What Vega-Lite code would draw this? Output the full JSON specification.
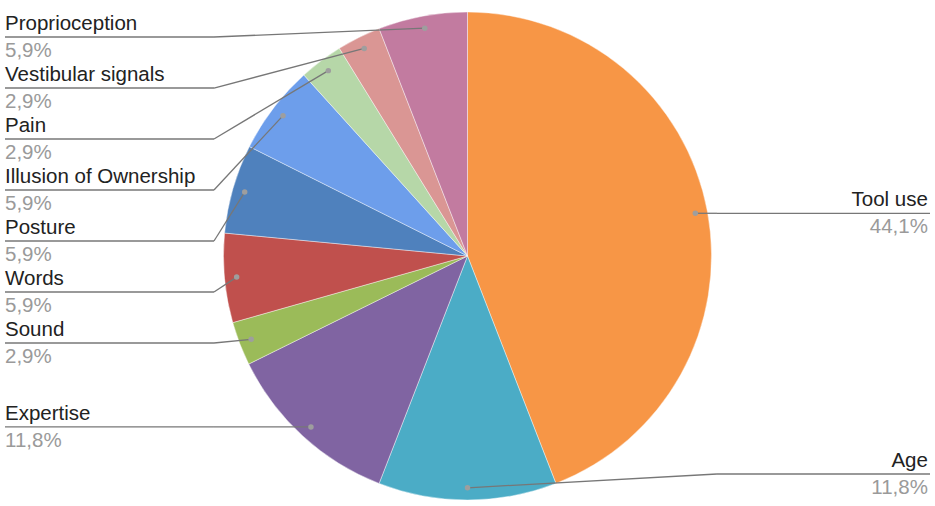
{
  "$schema": "https://vega.github.io/schema/vega-lite/v6.json",
  "width": 935,
  "height": 500,
  "autosize": {"type": "none"},
  "padding": {"top": 6, "left": 0, "right": 0, "bottom": 0},
  "background": "white",
  "config": {"view": {"stroke": null}},
  "data": {
    "values": [
      {"factor": "Tool use", "share": 44.1},
      {"factor": "Age", "share": 11.8},
      {"factor": "Expertise", "share": 11.8},
      {"factor": "Sound", "share": 2.9},
      {"factor": "Words", "share": 5.9},
      {"factor": "Posture", "share": 5.9},
      {"factor": "Illusion of Ownership", "share": 5.9},
      {"factor": "Pain", "share": 2.9},
      {"factor": "Vestibular signals", "share": 2.9},
      {"factor": "Proprioception", "share": 5.9}
    ]
  },
  "transform": [
    {"window": [{"op": "row_number", "as": "idx"}]},
    {"joinaggregate": [{"op": "sum", "field": "share", "as": "total"}]},
    {"window": [{"op": "sum", "field": "share", "as": "cum"}], "sort": [{"field": "idx"}], "frame": [null, 0]},
    {"calculate": "2*PI*(datum.cum - datum.share/2)/datum.total", "as": "mid"},
    {"calculate": "0.95*sin(datum.mid)", "as": "dx"},
    {"calculate": "0.95*cos(datum.mid)", "as": "dy"},
    {"calculate": "datum.mid > PI ? 'L' : 'R'", "as": "side"},
    {"window": [{"op": "row_number", "as": "k"}], "groupby": ["side"], "sort": [{"field": "dy", "order": "descending"}]},
    {"calculate": "datum.side == 'L' ? max(min(datum.dy, 0.8975 - (datum.k-1)*0.209), -0.8934) : max(min(datum.dy, 0.8975), -0.8934)", "as": "ly"},
    {"calculate": "datum.side == 'L' ? -1.8955 : 1.8955", "as": "lend"},
    {"calculate": "datum.side == 'L' ? -1.039 : 1.0225", "as": "lelbow"},
    {"calculate": "replace(format(datum.share, '.1f'), '.', ',') + '%'", "as": "pctLabel"}
  ],
  "layer": [
    {
      "mark": {"type": "arc", "outerRadius": 244, "stroke": "white", "strokeWidth": 0.6, "strokeOpacity": 0.7},
      "encoding": {
        "theta": {"field": "share", "type": "quantitative", "stack": true},
        "order": {"field": "idx", "type": "quantitative"},
        "color": {
          "field": "factor",
          "type": "nominal",
          "legend": null,
          "scale": {
            "domain": ["Tool use", "Age", "Expertise", "Sound", "Words", "Posture", "Illusion of Ownership", "Pain", "Vestibular signals", "Proprioception"],
            "range": ["#F79646", "#4BACC6", "#8064A2", "#9BBB59", "#C0504D", "#4F81BD", "#6D9EEB", "#B6D7A8", "#DA9694", "#C27BA0"]
          }
        }
      }
    },
    {
      "mark": {"type": "rule", "color": "#777777", "strokeWidth": 1.3},
      "encoding": {
        "x": {"field": "lend", "type": "quantitative", "axis": null, "scale": {"domain": [-1.916, 1.916], "nice": false, "zero": false}},
        "x2": {"field": "lelbow"},
        "y": {"field": "ly", "type": "quantitative", "axis": null, "scale": {"domain": [-1.0246, 1.0246], "nice": false, "zero": false}}
      }
    },
    {
      "mark": {"type": "rule", "color": "#777777", "strokeWidth": 1.3},
      "encoding": {
        "x": {"field": "lelbow", "type": "quantitative", "axis": null, "scale": {"domain": [-1.916, 1.916], "nice": false, "zero": false}},
        "x2": {"field": "dx"},
        "y": {"field": "ly", "type": "quantitative", "axis": null, "scale": {"domain": [-1.0246, 1.0246], "nice": false, "zero": false}},
        "y2": {"field": "dy"}
      }
    },
    {
      "mark": {"type": "point", "filled": true, "color": "#9e9e9e", "size": 30, "opacity": 1},
      "encoding": {
        "x": {"field": "dx", "type": "quantitative", "axis": null, "scale": {"domain": [-1.916, 1.916], "nice": false, "zero": false}},
        "y": {"field": "dy", "type": "quantitative", "axis": null, "scale": {"domain": [-1.0246, 1.0246], "nice": false, "zero": false}}
      }
    },
    {
      "transform": [{"filter": "datum.side == 'L'"}],
      "mark": {"type": "text", "align": "left", "baseline": "alphabetic", "dy": -7, "font": "Liberation Sans", "fontSize": 20.5, "color": "#222222"},
      "encoding": {
        "x": {"datum": -1.8955, "type": "quantitative", "scale": {"domain": [-1.916, 1.916], "nice": false, "zero": false}},
        "y": {"field": "ly", "type": "quantitative", "axis": null, "scale": {"domain": [-1.0246, 1.0246], "nice": false, "zero": false}},
        "text": {"field": "factor"}
      }
    },
    {
      "transform": [{"filter": "datum.side == 'L'"}],
      "mark": {"type": "text", "align": "left", "baseline": "alphabetic", "dy": 20, "font": "Liberation Sans", "fontSize": 20.5, "color": "#9a9a9a"},
      "encoding": {
        "x": {"datum": -1.8955, "type": "quantitative", "scale": {"domain": [-1.916, 1.916], "nice": false, "zero": false}},
        "y": {"field": "ly", "type": "quantitative", "axis": null, "scale": {"domain": [-1.0246, 1.0246], "nice": false, "zero": false}},
        "text": {"field": "pctLabel"}
      }
    },
    {
      "transform": [{"filter": "datum.side == 'R'"}],
      "mark": {"type": "text", "align": "right", "baseline": "alphabetic", "dy": -7, "font": "Liberation Sans", "fontSize": 20.5, "color": "#222222"},
      "encoding": {
        "x": {"datum": 1.887, "type": "quantitative", "scale": {"domain": [-1.916, 1.916], "nice": false, "zero": false}},
        "y": {"field": "ly", "type": "quantitative", "axis": null, "scale": {"domain": [-1.0246, 1.0246], "nice": false, "zero": false}},
        "text": {"field": "factor"}
      }
    },
    {
      "transform": [{"filter": "datum.side == 'R'"}],
      "mark": {"type": "text", "align": "right", "baseline": "alphabetic", "dy": 20, "font": "Liberation Sans", "fontSize": 20.5, "color": "#9a9a9a"},
      "encoding": {
        "x": {"datum": 1.887, "type": "quantitative", "scale": {"domain": [-1.916, 1.916], "nice": false, "zero": false}},
        "y": {"field": "ly", "type": "quantitative", "axis": null, "scale": {"domain": [-1.0246, 1.0246], "nice": false, "zero": false}},
        "text": {"field": "pctLabel"}
      }
    }
  ],
  "resolve": {"scale": {"x": "shared", "y": "shared"}}
}
